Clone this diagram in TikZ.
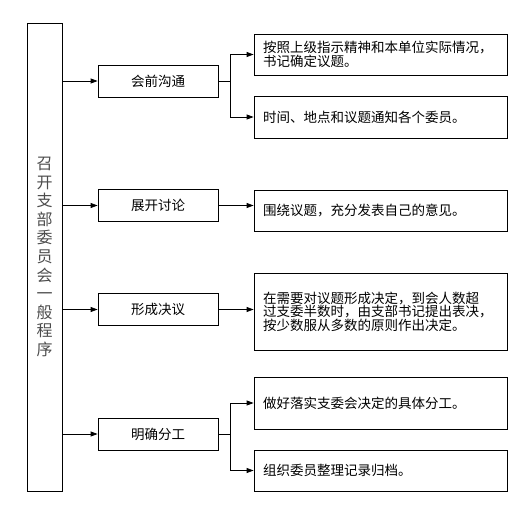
\documentclass[tikz,border=0pt]{standalone}
\usepackage{fontspec}
\newfontfamily\cjk{Noto Sans CJK SC}
\usetikzlibrary{positioning, arrows.meta, calc}

\begin{document}
\begin{tikzpicture}[
		x=1pt, y=-1pt,
		>={Triangle[length=7pt, width=5pt]},
		% Tall title column on the left
		titlebox/.style={
				rectangle, draw=black, line width=0.8pt,
				minimum width=35pt, minimum height=468pt, inner sep=0pt,
				font=\cjk\fontsize{16}{18.6}\selectfont, text=black!70, align=center
			},
		% Middle step boxes
		stepbox/.style={
				rectangle, draw=black, line width=0.8pt,
				minimum width=120pt, minimum height=32pt, inner sep=0pt,
				font=\cjk\fontsize{13.5}{15}\selectfont
			},
		% Right note boxes (height given as argument)
		notebox/.style={
				rectangle, draw=black, line width=0.8pt,
				text width=235pt, inner xsep=9pt, inner ysep=0pt, minimum height=#1,
				font=\cjk\fontsize{13.5}{13.5}\selectfont, align=left
			},
		% Arrows
		arrowline/.style={->, line width=0.8pt, draw=black}
	]

	\useasboundingbox (0,0) rectangle (525,514);

	% ==========================================
	% 1. TITLE COLUMN
	% ==========================================
	\node[titlebox] (title) at (44.5, 257) {召\\开\\支\\部\\委\\员\\会\\一\\般\\程\\序};

	% ==========================================
	% 2. STEPS (X=158)
	% ==========================================
	\node[stepbox] (prep) at (158, 81) {会前沟通};
	\node[stepbox] (discuss) at (158, 205.5) {展开讨论};
	\node[stepbox] (resolve) at (158, 309.5) {形成决议};
	\node[stepbox] (assign) at (158, 434) {明确分工};

	% ==========================================
	% 3. NOTES (X=380.5)
	% ==========================================
	\node[notebox=41pt] (topic) at (380.5, 54.5) {按照上级指示精神和本单位实际情况，\\书记确定议题。};
	\node[notebox=42pt] (notify) at (380.5, 117) {时间、地点和议题通知各个委员。};
	\node[notebox=41pt] (opinion) at (380.5, 210.5) {围绕议题，充分发表自己的意见。};
	\node[notebox=77pt] (vote) at (380.5, 311.5) {在需要对议题形成决定，到会人数超\\过支委半数时，由支部书记提出表决，\\按少数服从多数的原则作出决定。};
	\node[notebox=52pt] (duty) at (380.5, 403) {做好落实支委会决定的具体分工。};
	\node[notebox=41pt] (archive) at (380.5, 470.5) {组织委员整理记录归档。};

	% ==========================================
	% 4. ARROWS
	% ==========================================

	% Title column into each step
	\draw[arrowline] (title.east |- prep.west) -- (prep.west);
	\draw[arrowline] (title.east |- discuss.west) -- (discuss.west);
	\draw[arrowline] (title.east |- resolve.west) -- (resolve.west);
	\draw[arrowline] (title.east |- assign.west) -- (assign.west);

	% Single steps into their notes
	\draw[arrowline] (discuss.east) -- (discuss.east -| opinion.west);
	\draw[arrowline] (resolve.east) -- (resolve.east -| vote.west);

	% Forked steps
	\coordinate (prepfork) at ($(prep.east)+(12,0)$);
	\draw[arrowline] (prep.east) -- (prepfork) |- (topic.west);
	\draw[arrowline] (prepfork) |- (notify.west);

	\coordinate (assignfork) at ($(assign.east)+(12,0)$);
	\draw[arrowline] (assign.east) -- (assignfork) |- (duty.west);
	\draw[arrowline] (assignfork) |- (archive.west);

\end{tikzpicture}
\end{document}
